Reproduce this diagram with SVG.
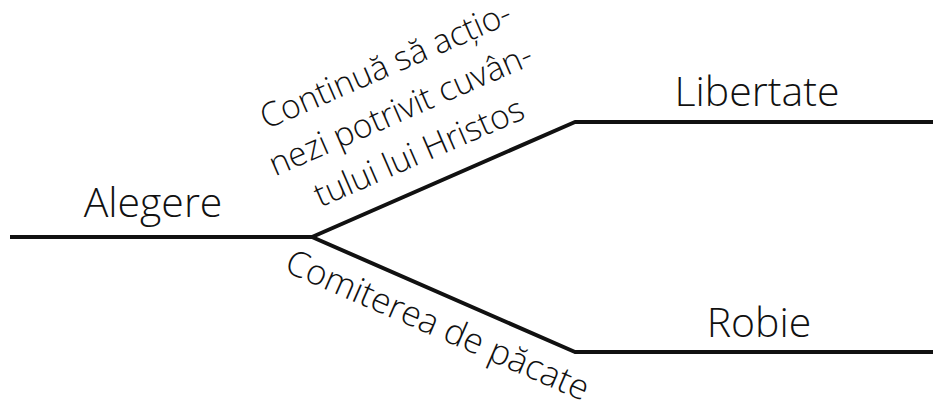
<svg xmlns="http://www.w3.org/2000/svg" width="933" height="402" viewBox="0 0 933 402">
<style>
.t{font-family:"Open Sans","Noto Sans",sans-serif;font-weight:300;fill:#111}
.big{font-size:41px}
.small{font-size:33.5px}
.ln{fill:none;stroke:#111;stroke-width:4;stroke-linejoin:round}
</style>
<rect width="933" height="402" fill="#fff"/>
<g id="connectors">
<polyline class="ln" points="10,237 312,237 575,122 933,122"/>
<polyline class="ln" points="312,237 575,352 933,352"/>
</g>
<g id="alegere"><text class="t big" x="153" y="217" text-anchor="middle">Alegere</text></g>
<g id="libertate"><text class="t big" x="757" y="106" text-anchor="middle">Libertate</text></g>
<g id="robie"><text class="t big" x="759" y="337" text-anchor="middle">Robie</text></g>
<g id="label-up" transform="rotate(-23.5 405 120)">
<text class="t small" x="409" y="120" text-anchor="middle" dy="-46.5">Continuă să acțio-</text>
<text class="t small" x="405" y="120" text-anchor="middle">nezi potrivit cuvân-</text>
<text class="t small" x="405" y="120" text-anchor="middle" dy="46.5">tului lui Hristos</text>
</g>
<g id="label-down" transform="rotate(23.5 433 336)">
<text class="t" style="font-size:35px" x="433" y="336" text-anchor="middle">Comiterea de păcate</text>
</g>
</svg>
